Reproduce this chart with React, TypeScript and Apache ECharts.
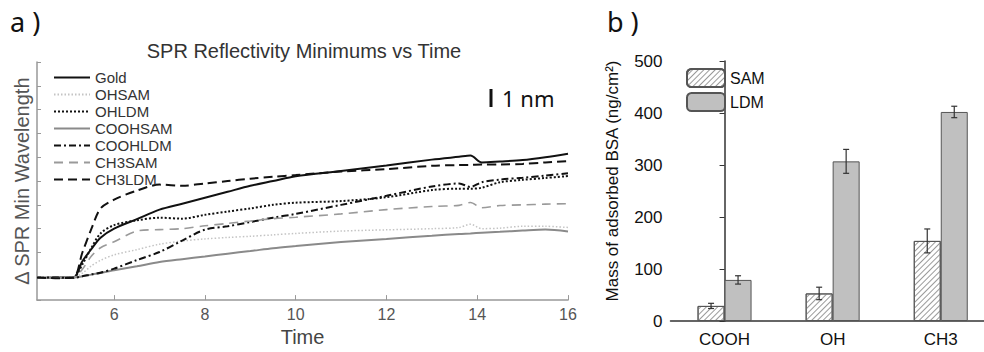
import React, { useEffect, useRef } from "react";
import * as echarts from "echarts";

// ---- Panel a: SPR reflectivity minimum shift vs time (arbitrary units, 1 tick = 1 unit)
const times = [4.3, 4.7, 5.1, 5.3, 5.5, 5.7, 6.0, 6.5, 7.0, 7.5, 8.0, 8.5, 9.0, 9.5, 10.0, 11.0, 12.0, 13.0, 13.6, 13.85, 14.1, 14.5, 15.0, 15.5, 16.0];
const gold = [0.93, 0.95, 0.95, 1.63, 2.15, 2.62, 3.0, 3.4, 3.8, 4.05, 4.3, 4.55, 4.8, 5.0, 5.2, 5.42, 5.65, 5.9, 6.02, 6.07, 5.78, 5.82, 5.88, 6.0, 6.15];
const ohSam = [0.93, 0.93, 0.95, 1.13, 1.44, 1.67, 1.9, 2.12, 2.35, 2.48, 2.57, 2.63, 2.68, 2.74, 2.8, 2.9, 2.95, 3.0, 3.05, 3.19, 3.0, 3.02, 3.1, 3.1, 3.05];
const ohLdm = [0.93, 0.93, 0.95, 1.5, 2.2, 2.8, 3.15, 3.35, 3.46, 3.42, 3.58, 3.72, 3.85, 4.0, 4.09, 4.16, 4.32, 4.62, 4.68, 4.68, 4.72, 4.95, 5.05, 5.13, 5.21];
const coohSam = [0.93, 0.93, 0.95, 1.0, 1.07, 1.15, 1.25, 1.42, 1.6, 1.72, 1.83, 1.95, 2.06, 2.18, 2.27, 2.44, 2.57, 2.7, 2.78, 2.8, 2.83, 2.87, 2.92, 2.96, 2.88];
const coohLdm = [0.93, 0.95, 0.93, 1.0, 1.08, 1.15, 1.32, 1.68, 2.02, 2.5, 2.96, 3.1, 3.28, 3.46, 3.62, 4.0, 4.38, 4.77, 4.9, 4.75, 4.95, 5.06, 5.14, 5.23, 5.33];
const ch3Sam = [0.93, 0.93, 0.95, 1.3, 1.85, 2.2, 2.45, 2.9, 2.96, 3.0, 3.12, 3.22, 3.32, 3.42, 3.48, 3.62, 3.8, 3.93, 3.98, 4.1, 3.88, 3.97, 4.0, 4.03, 4.05];
const ch3Ldm = [0.95, 0.92, 0.95, 2.0, 3.0, 3.85, 4.22, 4.6, 4.85, 4.8, 4.9, 5.0, 5.1, 5.18, 5.25, 5.4, 5.5, 5.64, 5.67, 5.68, 5.7, 5.7, 5.72, 5.78, 5.84];
const timeTicks = [6, 8, 10, 12, 14, 16];

// ---- Panel b: mass of adsorbed BSA
const categories = ["COOH", "OH", "CH3"];
const samMean = [29, 53, 154];
const samErr = [5, 12, 23];
const ldmMean = [79, 307, 402];
const ldmErr = [8, 23, 11];

const FONT = "Arial";
const BAR_W = 27;

export default function App() {
  const ref = useRef<HTMLDivElement>(null);
  useEffect(() => {
    if (!ref.current) return;
    const chart = echarts.init(ref.current, null, { renderer: "svg" });

    const pair = (vals: number[]) => times.map((t, i) => [t, vals[i]]);
    const lineSeries = (name: string, vals: number[], color: string, width: number, type: any) => ({
      name,
      type: "line",
      xAxisIndex: 0,
      yAxisIndex: 0,
      data: pair(vals),
      symbol: "none",
      showSymbol: false,
      smooth: 0.3,
      lineStyle: { color, width, type },
      itemStyle: { color },
    });

    const errData = (means: number[], errs: number[]) => means.map((m, i) => [i, m, errs[i]]);
    const errSeries = (name: string, means: number[], errs: number[], dx: number) => ({
      name: name + " err",
      type: "custom",
      xAxisIndex: 1,
      yAxisIndex: 1,
      data: errData(means, errs),
      z: 10,
      silent: true,
      renderItem: (params: any, api: any) => {
        const x = api.value(0);
        const m = api.value(1);
        const e = api.value(2);
        const top = api.coord([x, m + e]);
        const bot = api.coord([x, m - e]);
        const cx = top[0] + dx;
        const cap = 3;
        const st = { stroke: "#333", lineWidth: 1.2 };
        return {
          type: "group",
          children: [
            { type: "line", shape: { x1: cx, y1: top[1], x2: cx, y2: bot[1] }, style: st },
            { type: "line", shape: { x1: cx - cap, y1: top[1], x2: cx + cap, y2: top[1] }, style: st },
            { type: "line", shape: { x1: cx - cap, y1: bot[1], x2: cx + cap, y2: bot[1] }, style: st },
          ],
        };
      },
    });

    const option: any = {
      animation: false,
      textStyle: { fontFamily: FONT },
      graphic: [
        { type: "text", left: 10, top: 8, style: { text: "a )", font: "27px 'Noto Sans'", fill: "#111" } },
        { type: "text", left: 607, top: 8, style: { text: "b )", font: "27px 'Noto Sans'", fill: "#111" } },
        {
          type: "text",
          x: 304,
          y: 51,
          style: { text: "SPR Reflectivity Minimums vs Time", fontFamily: FONT, fontSize: 20, fill: "#333", align: "center", verticalAlign: "middle" },
        },
        { type: "line", shape: { x1: 491, y1: 89, x2: 491, y2: 107 }, style: { stroke: "#111", lineWidth: 3 } },
        { type: "text", x: 502, y: 98, style: { text: "1 nm", font: "22px 'Noto Sans'", fill: "#111", verticalAlign: "middle" } },
      ],
      legend: [
        {
          orient: "vertical",
          left: 48,
          top: 65,
          itemWidth: 36,
          itemHeight: 14,
          itemGap: 2,
          itemStyle: { color: "transparent", borderColor: "transparent", borderWidth: 0, opacity: 0 },
          textStyle: { fontSize: 15, color: "#333", fontFamily: FONT },
          data: ["Gold", "OHSAM", "OHLDM", "COOHSAM", "COOHLDM", "CH3SAM", "CH3LDM"],
        },
        {
          orient: "vertical",
          left: 681,
          top: 63,
          itemWidth: 38,
          itemHeight: 18,
          itemGap: 4,
          textStyle: { fontSize: 16, color: "#111", fontFamily: FONT },
          data: ["SAM", "LDM"],
        },
      ],
      grid: [
        { left: 37, right: 416, top: 62, bottom: 33 },
        { left: 670.5, right: 0, top: 61, bottom: 31 },
      ],
      xAxis: [
        {
          type: "value",
          gridIndex: 0,
          min: 4.3,
          max: 16,
          name: "Time",
          nameLocation: "middle",
          nameGap: 19,
          nameTextStyle: { fontSize: 20, color: "#444", fontFamily: FONT },
          axisLine: { lineStyle: { color: "#999", width: 1.5 } },
          axisTick: { show: true, inside: true, length: 5, lineStyle: { color: "#999" }, customValues: timeTicks },
          axisLabel: { fontSize: 16, color: "#555", margin: 6, fontFamily: FONT, customValues: timeTicks },
          splitLine: { show: false },
        },
        {
          type: "value",
          gridIndex: 1,
          min: -0.5,
          max: 2.4,
          axisLine: { lineStyle: { color: "#333", width: 1.5 } },
          axisTick: { show: false },
          axisLabel: {
            fontSize: 17,
            color: "#111",
            margin: 10,
            fontFamily: FONT,
            customValues: [0, 1, 2],
            formatter: (v: number) => categories[Math.round(v)] ?? "",
          },
          splitLine: { show: false },
        },
      ],
      yAxis: [
        {
          type: "value",
          gridIndex: 0,
          min: 0,
          max: 10,
          interval: 1,
          name: "Δ SPR Min Wavelength",
          nameLocation: "middle",
          nameGap: 5,
          nameTextStyle: { fontSize: 20, color: "#555", fontFamily: FONT, padding: [0, 0, 0, 0] },
          axisLine: { show: true, lineStyle: { color: "#999", width: 1.5 } },
          axisTick: { show: true, inside: true, length: 4, lineStyle: { color: "#999" } },
          axisLabel: { show: false },
          splitLine: { show: false },
        },
        {
          type: "value",
          gridIndex: 1,
          min: 0,
          max: 500,
          interval: 100,
          name: "Mass of adsorbed BSA (ng/cm²)",
          nameLocation: "middle",
          nameGap: 50,
          nameTextStyle: { fontSize: 17, color: "#111", fontFamily: FONT, padding: [0, 0, 0, 20] },
          axisLine: { show: true, lineStyle: { color: "#333", width: 1.5 } },
          axisTick: { show: true, inside: false, length: 5, lineStyle: { color: "#333" } },
          axisLabel: { fontSize: 17, color: "#111", margin: 8, fontFamily: FONT },
          splitLine: { show: false },
        },
      ],
      series: [
        lineSeries("Gold", gold, "#111", 2, "solid"),
        lineSeries("OHSAM", ohSam, "#c4c4c4", 1.5, [1.5, 2]),
        lineSeries("OHLDM", ohLdm, "#111", 2, [2, 2]),
        lineSeries("COOHSAM", coohSam, "#8a8a8a", 2, "solid"),
        lineSeries("COOHLDM", coohLdm, "#111", 2, [7, 3, 2, 3]),
        lineSeries("CH3SAM", ch3Sam, "#9a9a9a", 1.6, [9, 6]),
        lineSeries("CH3LDM", ch3Ldm, "#111", 2, [9, 5]),
        {
          name: "SAM",
          type: "bar",
          xAxisIndex: 1,
          yAxisIndex: 1,
          barWidth: BAR_W,
          barGap: "0%",
          data: samMean.map((v, i) => [i, v]),
          itemStyle: {
            color: "#ffffff",
            borderColor: "#555",
            borderWidth: 1,
            decal: {
              symbol: "rect",
              symbolSize: 1,
              dashArrayX: [1, 0],
              dashArrayY: [1, 3],
              rotation: -Math.PI / 4,
              color: "#9a9a9a",
            },
          },
        },
        {
          name: "LDM",
          type: "bar",
          xAxisIndex: 1,
          yAxisIndex: 1,
          barWidth: BAR_W,
          barGap: "0%",
          data: ldmMean.map((v, i) => [i, v]),
          itemStyle: { color: "#c0c0c0", borderColor: "#555", borderWidth: 1 },
        },
        errSeries("SAM", samMean, samErr, -BAR_W / 2),
        errSeries("LDM", ldmMean, ldmErr, BAR_W / 2),
      ],
    };
    chart.setOption(option);
    return () => chart.dispose();
  }, []);
  return (
    <div
      ref={ref}
      style={{ position: "fixed", left: 0, top: 0, width: 984, height: 352, background: "#fff" }}
    />
  );
}
